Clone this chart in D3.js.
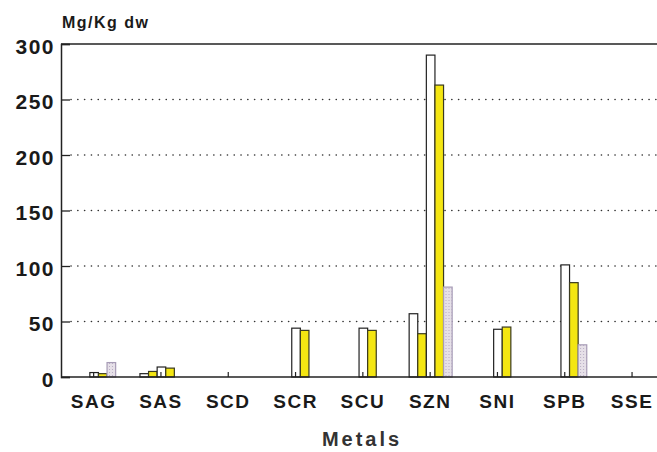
<!DOCTYPE html>
<html>
<head>
<meta charset="utf-8">
<script src="https://cdn.jsdelivr.net/npm/d3@7"></script>
<style>
  body { margin: 0; background: #fff; }
  svg { display: block; font-family: "Liberation Sans", Arial, sans-serif; font-weight: bold; }
</style>
</head>
<body>
<div id="viz"></div>
<script>
// metals on the x axis
var metals = ['SAG', 'SAS', 'SCD', 'SCR', 'SCU', 'SZN', 'SNI', 'SPB', 'SSE'];
// five bar series per metal, left to right
var seriesNames = ['aWhite', 'aYellow', 'bWhite', 'bYellow', 'bGrey'];
var aWhite  = [0, 3, 0, 0, 0, 57, 0, 0, 0];
var aYellow = [0, 5, 0, 0, 0, 39, 0, 0, 0];
var bWhite  = [4, 9, 0, 44, 44, 290, 43, 101, 0];
var bYellow = [3, 8, 0, 42, 42, 263, 45, 85, 0];
var bGrey   = [13, 0, 0, 0, 0, 81, 0, 29, 0];
var yTicks = [0, 50, 100, 150, 200, 250, 300];

var values = { aWhite: aWhite, aYellow: aYellow, bWhite: bWhite, bYellow: bYellow, bGrey: bGrey };

var W = 657, H = 452,
    margin = { top: 44, left: 61 },
    height = 333,
    width = W - margin.left;

var svg = d3.select('#viz').append('svg')
    .attr('width', W)
    .attr('height', H);

var defs = svg.append('defs');
var pat = defs.append('pattern')
    .attr('id', 'dots')
    .attr('width', 3).attr('height', 3)
    .attr('patternUnits', 'userSpaceOnUse');
pat.append('rect').attr('width', 3).attr('height', 3).attr('fill', '#e6e0e8');
pat.append('rect').attr('x', 1).attr('y', 1).attr('width', 1).attr('height', 1).attr('fill', '#b9aec4');

var g = svg.append('g').attr('transform', 'translate(' + margin.left + ',' + margin.top + ')');

var x = d3.scaleBand().domain(metals).range([-1, -1 + 9 * 67.3]);
var x1 = d3.scaleBand().domain(seriesNames)
    .range([x.bandwidth() / 2 - 21, x.bandwidth() / 2 + 22]);
var y = d3.scaleLinear().domain([0, 300]).range([height, 0]);

// dotted grid lines
g.selectAll('.grid').data(yTicks.filter(function (t) { return t > 0 && t < 300; }))
  .enter().append('line')
    .attr('x1', 10).attr('x2', width)
    .attr('y1', function (d) { return y(d); })
    .attr('y2', function (d) { return y(d); })
    .attr('stroke', '#333')
    .attr('stroke-width', 1.6)
    .attr('stroke-linecap', 'round')
    .attr('stroke-dasharray', '0.1,6.7');

// top border
g.append('line').attr('x1', 0).attr('x2', width).attr('y1', 0).attr('y2', 0)
    .attr('stroke', '#222').attr('stroke-width', 1.5);

var styles = {
  aWhite:  { fill: '#fff', stroke: '#222' },
  aYellow: { fill: '#f4e612', stroke: '#3a3a20' },
  bWhite:  { fill: '#fff', stroke: '#222' },
  bYellow: { fill: '#f4e612', stroke: '#3a3a20' },
  bGrey:   { fill: 'url(#dots)', stroke: '#a79cb6' }
};

var groups = g.selectAll('.metal').data(metals).enter().append('g')
    .attr('transform', function (d) { return 'translate(' + x(d) + ',0)'; });

groups.selectAll('rect').data(function (m, i) {
    return seriesNames.map(function (s) { return { s: s, v: values[s][i] }; })
      .filter(function (d) { return d.v > 0; });
  })
  .enter().append('rect')
    .attr('x', function (d) { return x1(d.s); })
    .attr('width', x1.bandwidth())
    .attr('y', function (d) { return y(d.v); })
    .attr('height', function (d) { return y(0) - y(d.v); })
    .attr('fill', function (d) { return styles[d.s].fill; })
    .attr('stroke', function (d) { return styles[d.s].stroke; })
    .attr('stroke-width', 1.2);

// y axis
var yAxis = g.append('g')
    .call(d3.axisLeft(y).tickValues(yTicks).tickSize(-9).tickPadding(18));
yAxis.select('.domain').attr('stroke', '#222').attr('stroke-width', 1.5);
yAxis.selectAll('.tick line').attr('stroke', '#222').attr('stroke-width', 1.3);
yAxis.selectAll('.tick text')
    .attr('x', -6)
    .attr('dy', '0.45em')
    .attr('fill', '#1a1a1a')
    .style('font-size', '21px')
    .style('letter-spacing', '1.5px')
    .style('font-family', '"Liberation Sans", Arial, sans-serif')
    .style('font-weight', 'bold');

// x axis
var xAxis = g.append('g')
    .attr('transform', 'translate(0,' + height + ')')
    .call(d3.axisBottom(x).tickSize(-5).tickPadding(16));
xAxis.select('.domain').remove();
g.append('line').attr('x1', 0).attr('x2', width).attr('y1', height).attr('y2', height)
    .attr('stroke', '#222').attr('stroke-width', 1.5);
xAxis.selectAll('.tick line').attr('stroke', '#222').attr('stroke-width', 1.2);
xAxis.selectAll('.tick text')
    .attr('dy', '0.8em')
    .attr('fill', '#1a1a1a')
    .style('font-size', '19px')
    .style('letter-spacing', '1.5px')
    .style('font-family', '"Liberation Sans", Arial, sans-serif')
    .style('font-weight', 'bold');

// unit label
svg.append('text')
    .attr('x', 62).attr('y', 28)
    .attr('fill', '#1a1a1a')
    .style('font-size', '16px')
    .style('letter-spacing', '1.5px')
    .text('Mg/Kg dw');

// x title
svg.append('text')
    .attr('x', 362).attr('y', 446)
    .attr('text-anchor', 'middle')
    .attr('fill', '#333')
    .style('font-size', '20px')
    .style('letter-spacing', '3px')
    .text('Metals');
</script>
</body>
</html>
